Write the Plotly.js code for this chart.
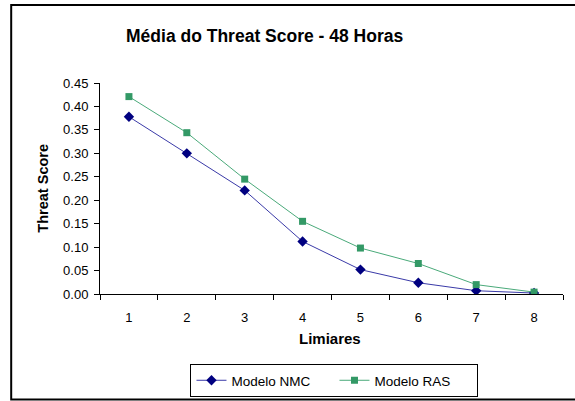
<!DOCTYPE html>
<html>
<head>
<meta charset="utf-8">
<script src="https://cdn.plot.ly/plotly-3.0.1.min.js"></script>
<style>html,body{margin:0;padding:0;background:#fff;}#chart{width:575px;height:401px;}</style>
</head>
<body>
<div id="chart"></div>
<script>
var limiares = [1, 2, 3, 4, 5, 6, 7, 8];
var modeloNMC = [0.378, 0.300, 0.221, 0.112, 0.052, 0.024, 0.007, 0.002];
var modeloRAS = [0.421, 0.344, 0.245, 0.155, 0.098, 0.065, 0.020, 0.004];
var yTicks = [0, 0.05, 0.10, 0.15, 0.20, 0.25, 0.30, 0.35, 0.40, 0.45];

var font = "Liberation Sans, Arial, sans-serif";
var traces = [
  {x: limiares, y: modeloNMC, name: "Modelo NMC", type: "scatter", mode: "lines+markers",
   line: {color: "#3a3aa8", width: 1}, marker: {symbol: "diamond", size: 8, color: "#000080"}},
  {x: limiares, y: modeloRAS, name: "Modelo RAS", type: "scatter", mode: "lines+markers",
   line: {color: "#4aaa7a", width: 1}, marker: {symbol: "square", size: 7, color: "#339966"}}
];
var layout = {
  width: 575, height: 401,
  margin: {l: 100, r: 12, t: 83, b: 107},
  paper_bgcolor: "#fff", plot_bgcolor: "#fff",
  font: {family: font, size: 13, color: "#000"},
  showlegend: true,
  title: {text: "<b>Média do Threat Score - 48 Horas</b>", font: {family: font, size: 17.5, color: "#000"},
          xref: "paper", x: (265-100)/464, xanchor: "center", yref: "container", y: 1 - 36/401, yanchor: "middle"},
  xaxis: {range: [0.5, 8.5], tickvals: limiares, ticktext: limiares.map(String), ticks: "",
          showline: true, linecolor: "#000", linewidth: 1, showgrid: false, zeroline: false,
          minor: {ticks: "outside", tick0: 0.5, dtick: 1, ticklen: 5, tickcolor: "#000", showgrid: false},
          ticklabelstandoff: 11, tickfont: {family: font, size: 13}, fixedrange: true},
  yaxis: {range: [0, 0.45], tickvals: yTicks, tickformat: ".2f", ticks: "outside", ticklen: 5, tickcolor: "#000",
          showline: true, linecolor: "#000", linewidth: 1, showgrid: false, zeroline: false,
          ticklabelstandoff: 3, tickfont: {family: font, size: 13}, fixedrange: true},
  legend: {orientation: "h", x: (335-100)/464, xanchor: "center", yref: "container", y: 1 - 364/401, yanchor: "top",
           bordercolor: "#000", borderwidth: 1, font: {family: font, size: 13.5},
           entrywidth: 98, entrywidthmode: "pixels"},
  annotations: [
    {text: "<b>Limiares</b>", xref: "paper", yref: "paper", x: (330-100)/464, y: (294-338)/211,
     xanchor: "center", yanchor: "middle", showarrow: false, font: {family: font, size: 15}},
    {text: "<b>Threat Score</b>", xref: "paper", yref: "paper", x: (42-100)/464, y: 0.5, textangle: -90,
     xanchor: "center", yanchor: "middle", showarrow: false, font: {family: font, size: 14.5}}
  ],
  shapes: [
    {type: "rect", xref: "paper", yref: "paper", x0: (11-100)/464, x1: (578-100)/464,
     y0: (294-399.5)/211, y1: (294-5)/211, line: {color: "#000", width: 2}}
  ]
};
Plotly.newPlot("chart", traces, layout, {displayModeBar: false, staticPlot: true});
</script>
</body>
</html>
